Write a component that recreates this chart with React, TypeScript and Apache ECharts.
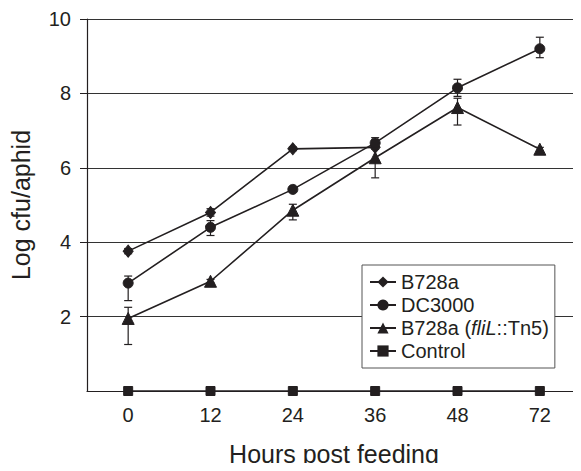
import React, { useEffect, useRef } from "react";
import * as echarts from "echarts";

const hours = ["0", "12", "24", "36", "48", "72"];
const yTicks = [2, 4, 6, 8, 10];

const b728a = [3.76, 4.8, 6.51, 6.55, null, null];
const b728aLow = [3.69, 4.7, 6.46, 6.5, null, null];
const b728aHigh = [3.83, 4.9, 6.56, 6.6, null, null];

const dc3000 = [2.9, 4.4, 5.42, 6.67, 8.15, 9.2];
const dc3000Low = [2.43, 4.18, 5.38, 6.6, 7.92, 8.96];
const dc3000High = [3.09, 4.58, 5.46, 6.74, 8.38, 9.51];

const fliL = [1.95, 2.95, 4.86, 6.27, 7.62, 6.5];
const fliLLow = [1.25, 2.9, 4.6, 5.73, 7.15, 6.45];
const fliLHigh = [2.25, 3.0, 5.02, 6.81, 7.87, 6.55];

const control = [0, 0, 0, 0, 0, 0];

const FONT = "'Liberation Sans', Arial, Helvetica, sans-serif";
const INK = "#231f20";

function errData(low: (number | null)[], high: (number | null)[]) {
  const out: number[][] = [];
  low.forEach((l, i) => {
    const h = high[i];
    if (l != null && h != null) out.push([i, l, h]);
  });
  return out;
}

function errSeries(low: (number | null)[], high: (number | null)[]) {
  return {
    type: "custom",
    silent: true,
    z: 1,
    data: errData(low, high),
    encode: { x: 0, y: [1, 2] },
    renderItem: (params: any, api: any) => {
      const x = api.value(0);
      const lo = api.coord([x, api.value(1)]);
      const hi = api.coord([x, api.value(2)]);
      const w = 4;
      const style = { stroke: INK, lineWidth: 1.2 };
      return {
        type: "group",
        children: [
          { type: "line", shape: { x1: lo[0], y1: lo[1], x2: hi[0], y2: hi[1] }, style },
          { type: "line", shape: { x1: lo[0] - w, y1: lo[1], x2: lo[0] + w, y2: lo[1] }, style },
          { type: "line", shape: { x1: hi[0] - w, y1: hi[1], x2: hi[0] + w, y2: hi[1] }, style },
        ],
      };
    },
  };
}

function lineSeries(name: string, data: (number | null)[], symbol: string, size: any) {
  return {
    name,
    type: "line",
    data,
    symbol,
    symbolSize: size,
    showSymbol: true,
    clip: false,
    z: 3,
    connectNulls: false,
    lineStyle: { color: INK, width: 1.6 },
    itemStyle: { color: INK, borderColor: INK },
  };
}

export default function App() {
  const ref = useRef<HTMLDivElement>(null);
  useEffect(() => {
    if (!ref.current) return;
    const chart = echarts.init(ref.current, undefined, { renderer: "svg" });
    chart.setOption({
      animation: false,
      backgroundColor: "#fff",
      textStyle: { fontFamily: FONT, color: INK },
      grid: { left: 87, top: 19, width: 500, height: 375, containLabel: false },
      legend: {
        data: ["B728a", "DC3000", "B728a (fliL::Tn5)", "Control"],
        orient: "vertical",
        left: 362,
        top: 265,
        padding: [7, 6, 7, 7],
        itemGap: 3,
        itemWidth: 26,
        itemHeight: 14,
        backgroundColor: "#fff",
        borderColor: "#555",
        borderWidth: 1,
        borderRadius: 0,
        formatter: (name: string) =>
          name === "B728a (fliL::Tn5)" ? "B728a ({i|fliL}::Tn5)" : name,
        textStyle: {
          fontFamily: FONT,
          fontSize: 20,
          color: INK,
          rich: { i: { fontStyle: "italic", fontSize: 20, fontFamily: FONT, color: INK } },
        },
      },
      xAxis: {
        type: "category",
        data: hours,
        boundaryGap: true,
        name: "Hours post feeding",
        nameLocation: "middle",
        nameGap: 50,
        nameTextStyle: { fontSize: 25, fontFamily: FONT, color: INK },
        axisLine: { lineStyle: { color: INK, width: 1.2 } },
        axisTick: { alignWithLabel: true, length: 5, lineStyle: { color: INK } },
        axisLabel: { fontSize: 20, fontFamily: FONT, color: INK, margin: 14 },
        splitLine: { show: false },
      },
      yAxis: {
        type: "value",
        min: 0,
        max: 10,
        interval: 2,
        name: "Log cfu/aphid",
        nameLocation: "middle",
        nameGap: 54,
        nameTextStyle: { fontSize: 25, fontFamily: FONT, color: INK },
        axisLine: { show: true, lineStyle: { color: INK, width: 1.2 } },
        axisTick: { show: true, length: 7, customValues: yTicks, lineStyle: { color: INK } },
        axisLabel: { fontSize: 20, fontFamily: FONT, color: INK, margin: 16, customValues: yTicks },
        splitLine: { show: true, lineStyle: { color: "#333", width: 1.1 } },
      },
      series: [
        errSeries(b728aLow, b728aHigh),
        errSeries(dc3000Low, dc3000High),
        errSeries(fliLLow, fliLHigh),
        lineSeries("B728a", b728a, "diamond", [10, 12]),
        lineSeries("DC3000", dc3000, "circle", 10),
        lineSeries("B728a (fliL::Tn5)", fliL, "triangle", 12),
        lineSeries("Control", control, "rect", 9),
      ],
    });
    return () => chart.dispose();
  }, []);
  return <div ref={ref} style={{ width: 581, height: 471, margin: -8 }} />;
}
